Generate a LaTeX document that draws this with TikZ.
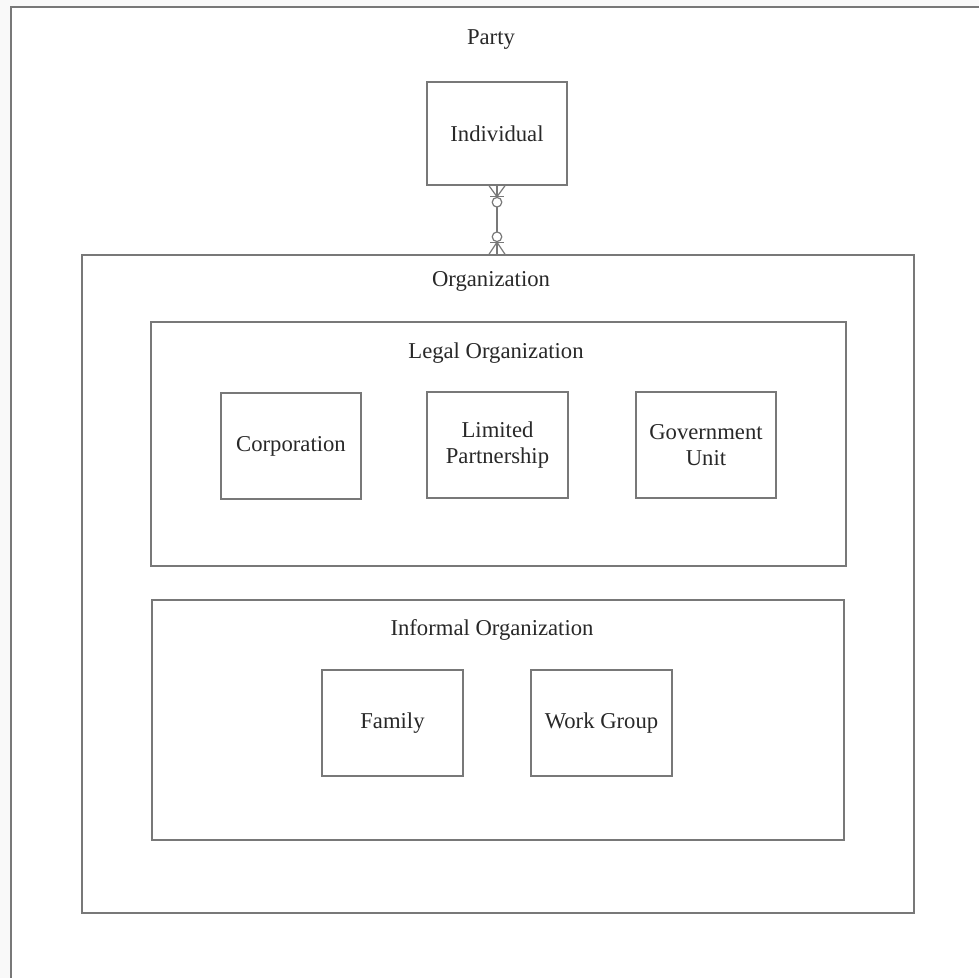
\documentclass[tikz,border=0pt]{standalone}
\usepackage{fontspec}
\setmainfont{Liberation Serif}
\usetikzlibrary{fit,calc}
\definecolor{edge}{RGB}{120,120,120}
\definecolor{ink}{RGB}{40,40,40}
\begin{document}
\begin{tikzpicture}[x=0.75pt,y=-0.75pt,
  box/.style={draw=edge, line width=1.1pt, inner sep=0pt},
  lbl/.style={text=ink, font=\fontsize{17}{19.5}\selectfont, align=center},
  named/.style={label={[lbl]center:#1}},
  link/.style={draw=edge, line width=0.9pt}]
\useasboundingbox (0,0) rectangle (979,978);
% page frame
\fill[gray!5] (0,0) rectangle (979,7);
\fill[gray!5] (0,7) rectangle (11,978);
\draw[edge, line width=1.3pt] (11,978) -- (11,7) -- (979,7);

% entities
\node[lbl] (party) at (491,40) {Party};
\node[box, named=Individual, fit={(427,82) (567,185)}] (ind) {};

\node[box, fit={(82,255) (914,913)}] (org) {};
\node[lbl] (orglbl) at (491,281) {Organization};

\node[box, fit={(151,322) (846,566)}] (legal) {};
\node[lbl] (legallbl) at (496,353) {Legal Organization};
\node[box, named=Corporation, fit={(221,393) (361,499)}] (corp) {};
\node[box, named={Limited\\Partnership}, fit={(427,392) (568,498)}] (ltd) {};
\node[box, named={Government\\Unit}, fit={(636,392) (776,498)}] (gov) {};

\node[box, fit={(152,600) (844,840)}] (informal) {};
\node[lbl] (informallbl) at (492,630) {Informal Organization};
\node[box, named=Family, fit={(322,670) (463,776)}] (family) {};
\node[box, named={Work Group}, fit={(531,670) (672,776)}] (work) {};

% relationship: zero-or-many at both ends
\coordinate (a) at (ind.south);
\coordinate (b) at (ind.south |- org.north);
\draw[link] (a) -- (b);
\draw[link] ($(a)+(-8,0)$) -- ($(a)+(0,11)$) -- ($(a)+(8,0)$);
\draw[link] ($(a)+(-7,11)$) -- ($(a)+(7,11)$);
\draw[link, fill=white] ($(a)+(0,16.5)$) circle[radius=3.6pt];
\draw[link] ($(b)+(-8,0)$) -- ($(b)+(0,-12)$) -- ($(b)+(8,0)$);
\draw[link] ($(b)+(-7,-12)$) -- ($(b)+(7,-12)$);
\draw[link, fill=white] ($(b)+(0,-17.5)$) circle[radius=3.6pt];
\end{tikzpicture}
\end{document}
